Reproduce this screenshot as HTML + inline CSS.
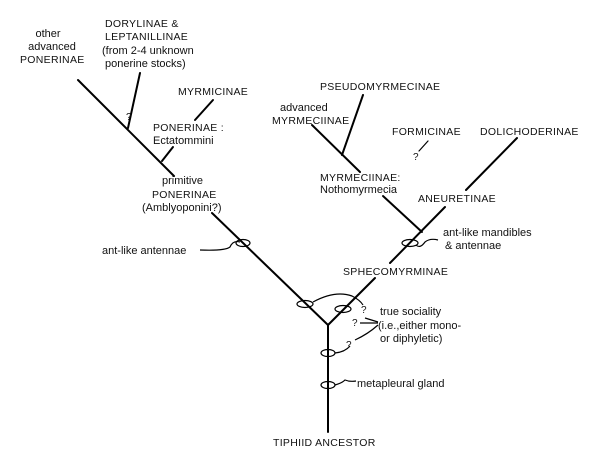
<!DOCTYPE html>
<html><head><style>
html,body{margin:0;padding:0;background:#fff;}
svg{display:block;}
text{font-family:"Liberation Sans",sans-serif;font-size:11px;fill:#111;}
.c{font-size:10.5px;letter-spacing:0.3px;}
</style></head><body>
<svg width="600" height="470" viewBox="0 0 600 470" xmlns="http://www.w3.org/2000/svg">
<g stroke="#000" stroke-width="2" fill="none" stroke-linecap="round">
<line x1="328" y1="325" x2="328" y2="432"/>
<line x1="78" y1="80" x2="174" y2="176"/>
<line x1="212" y1="213" x2="328" y2="325"/>
<line x1="162" y1="161" x2="173" y2="147"/>
<line x1="195" y1="120" x2="213" y2="100"/>
<line x1="128" y1="128" x2="140" y2="73"/>
<line x1="328" y1="325" x2="375" y2="278"/>
<line x1="390" y1="263" x2="445" y2="207"/>
<line x1="466" y1="190" x2="517" y2="138"/>
<line x1="422" y1="232" x2="383" y2="196"/>
<line x1="360" y1="172" x2="312" y2="125"/>
<line x1="342" y1="155" x2="363" y2="95"/>
<line x1="419" y1="151" x2="428" y2="141" stroke-width="1.2"/>
</g>
<g stroke="#000" stroke-width="1.2" fill="none">
<ellipse cx="243" cy="243" rx="7" ry="3.5"/>
<ellipse cx="410" cy="243" rx="8" ry="3.5"/>
<ellipse cx="305" cy="304" rx="8" ry="3.5"/>
<ellipse cx="343" cy="309" rx="8" ry="3.5"/>
<ellipse cx="328" cy="353" rx="7" ry="3.5"/>
<ellipse cx="328" cy="385" rx="7" ry="3.5"/>
<path d="M200 250 Q225 251 230 247 Q233 240 240 242"/>
<path d="M438 240 Q430 238 425 242 Q420 249 416 245"/>
<path d="M313 302 Q335 290 352 296 Q360 300 363 305"/>
<path d="M365 318 L378 322"/>
<path d="M360 323 L378 323"/>
<path d="M355 340 Q368 334 378 325"/>
<path d="M335 353 Q345 352 350 346"/>
<path d="M335 385 Q342 383 345 380 Q350 382 356 381"/>
</g>
<g>
<text x="48" y="37" text-anchor="middle">other</text>
<text x="52" y="50" text-anchor="middle">advanced</text>
<text x="20" y="63" class="c">PONERINAE</text>
<text x="105" y="27" class="c">DORYLINAE &amp;</text>
<text x="105" y="40" class="c">LEPTANILLINAE</text>
<text x="102" y="54">(from 2-4 unknown</text>
<text x="105" y="67">ponerine stocks)</text>
<text x="126" y="120" style="font-size:10px">?</text>
<text x="178" y="95" class="c">MYRMICINAE</text>
<text x="153" y="131" class="c">PONERINAE :</text>
<text x="153" y="144">Ectatommini</text>
<text x="162" y="184">primitive</text>
<text x="152" y="198" class="c">PONERINAE</text>
<text x="142" y="211">(Amblyoponini?)</text>
<text x="102" y="254">ant-like antennae</text>
<text x="320" y="90" class="c">PSEUDOMYRMECINAE</text>
<text x="280" y="111">advanced</text>
<text x="272" y="124" class="c">MYRMECIINAE</text>
<text x="392" y="135" class="c">FORMICINAE</text>
<text x="480" y="135" class="c">DOLICHODERINAE</text>
<text x="413" y="160" style="font-size:10px">?</text>
<text x="320" y="181" class="c">MYRMECIINAE:</text>
<text x="320" y="193">Nothomyrmecia</text>
<text x="418" y="202" class="c">ANEURETINAE</text>
<text x="443" y="236">ant-like mandibles</text>
<text x="445" y="249">&amp; antennae</text>
<text x="343" y="275" class="c">SPHECOMYRMINAE</text>
<text x="361" y="313" style="font-size:10px">?</text>
<text x="352" y="326" style="font-size:10px">?</text>
<text x="346" y="348" style="font-size:10px">?</text>
<text x="380" y="315">true sociality</text>
<text x="378" y="329">(i.e.,either mono-</text>
<text x="380" y="342">or diphyletic)</text>
<text x="357" y="387">metapleural gland</text>
<text x="273" y="446" class="c">TIPHIID ANCESTOR</text>
</g>
</svg>
</body></html>
